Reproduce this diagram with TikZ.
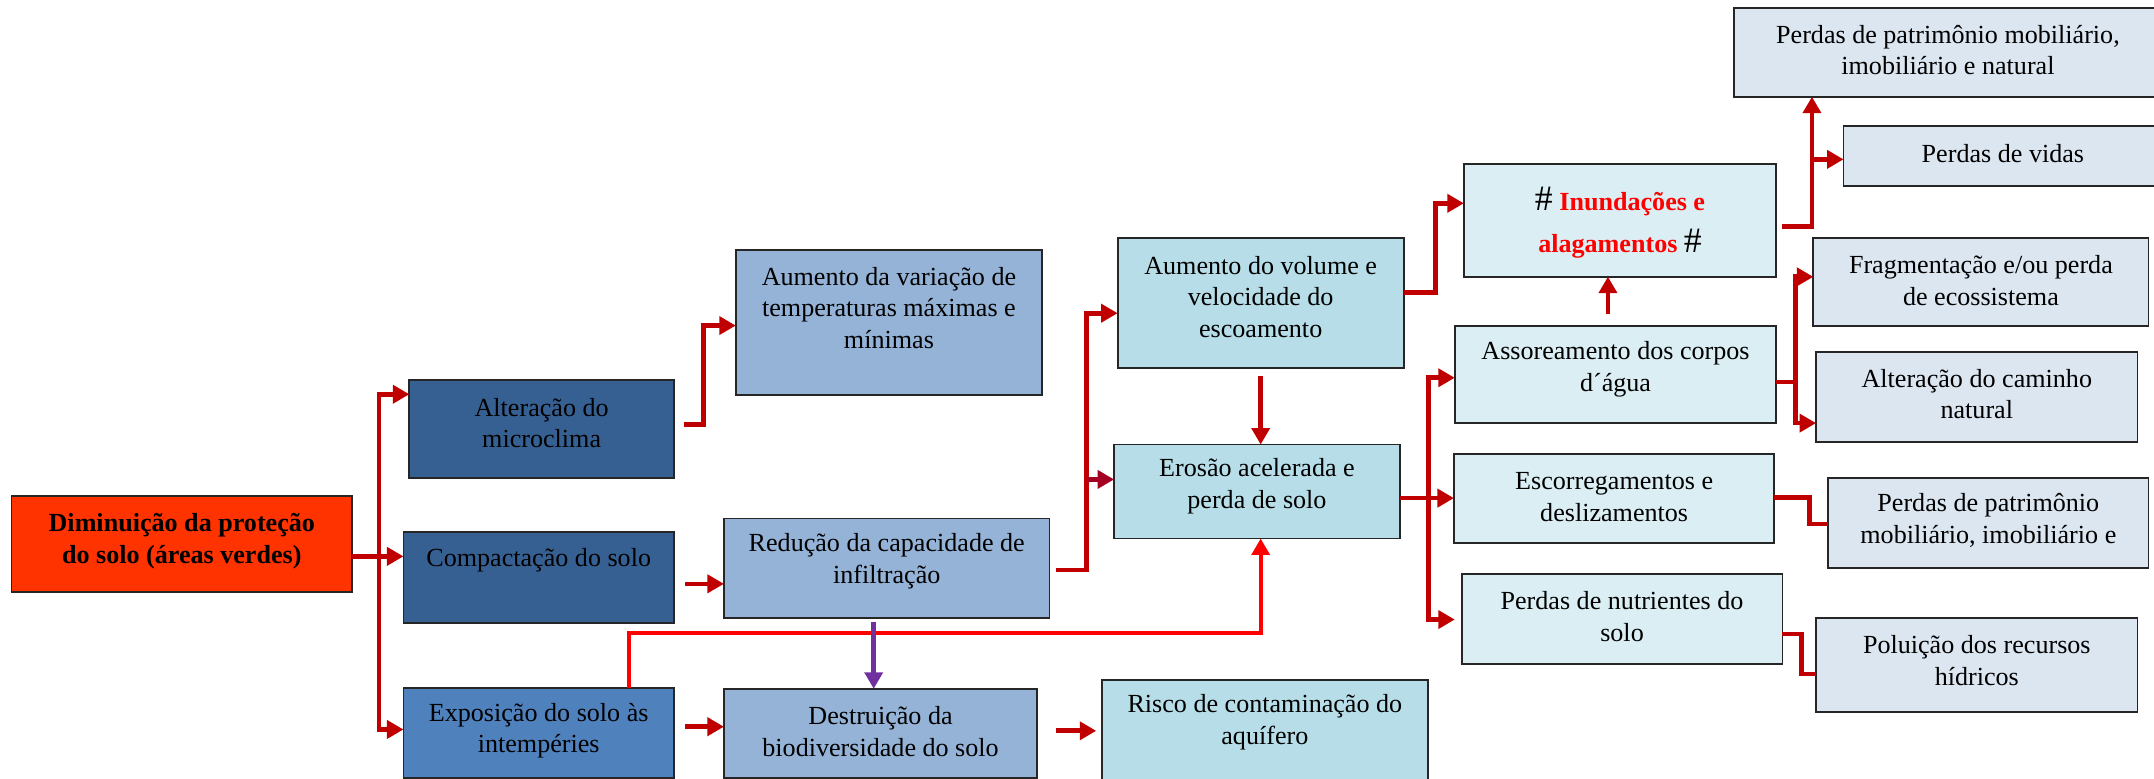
\documentclass[tikz,border=0pt]{standalone}
\usepackage{fontspec}
\setmainfont{Liberation Serif}
\usetikzlibrary{arrows.meta,calc}
\definecolor{cRoot}{HTML}{FF3300}
\definecolor{cDark}{HTML}{376092}
\definecolor{cMid}{HTML}{4F81BD}
\definecolor{cSteel}{HTML}{95B3D7}
\definecolor{cCyan}{HTML}{B7DEE8}
\definecolor{cPale}{HTML}{DAEEF3}
\definecolor{cGrey}{HTML}{DCE6F1}
\definecolor{cArr}{HTML}{C00000}
\definecolor{cMaroon}{HTML}{A50021}
\definecolor{cBright}{HTML}{FF0000}
\definecolor{cPurple}{HTML}{7030A0}
\tikzset{
 boxst/.style={draw=black!85, line width=1.3pt, rectangle, inner sep=0pt, outer sep=0pt},
 txt/.style={align=center, inner sep=0pt, font=\fontsize{19}{23}\selectfont},
 conn/.style={color=cArr, line width=3.4pt},
 arr/.style={conn, -{Triangle[length=12pt,width=13pt]}},
}
\newcommand\bx[9]{%
 \node[boxst, fill=#2, minimum width={(#5)-(#3)}, minimum height={(#6)-(#4)}] (#1) at ({((#3)+(#5))/2},{((#4)+(#6))/2}) {};
 \node[txt,#9] (#1-t) at ({((#3)+(#5))/2},#7) {#8};
}
\begin{document}
\begin{tikzpicture}[x={(1pt,0)},y={(0,-1pt)}]
\useasboundingbox (0,0) rectangle (1568,567);
% boxes
\bx{root}{cRoot}{8.4}{361}{256.3}{431.2}{394}{Diminuição da proteção\\do solo (áreas verdes)}{font=\fontsize{19}{23}\selectfont\bfseries}
\bx{alter}{cDark}{298}{276.6}{490.6}{348.2}{308}{Alteração do\\microclima}{}
\bx{compact}{cDark}{293.7}{387.5}{490.6}{453.3}{408}{Compactação do solo}{}
\bx{expo}{cMid}{293.7}{501}{490.6}{566.3}{532}{Exposição do solo às\\intempéries}{}
\bx{var}{cSteel}{535.6}{182.2}{758.6}{287.3}{224}{Aumento da variação de\\temperaturas máximas e\\mínimas}{}
\bx{red}{cSteel}{527}{377.4}{764}{450}{408.6}{Redução da capacidade de\\infiltração}{}
\bx{destr}{cSteel}{527}{501.4}{755}{566.3}{532.5}{Destruição da\\biodiversidade do solo}{}
\bx{vol}{cCyan}{813.6}{173}{1021.8}{268}{216}{Aumento do volume e\\velocidade do\\escoamento}{}
\bx{ero}{cCyan}{811}{323.6}{1019}{392}{354}{Erosão acelerada e\\perda de solo}{}
\bx{risco}{cCyan}{802}{495}{1039.5}{575}{525.7}{Risco de contaminação do\\aquífero}{}
\bx{inund}{cPale}{1065.6}{119.4}{1293}{201.4}{162}{{\fontsize{26}{30}\selectfont\#} {\bfseries\color{cBright}Inundações e}\\{\bfseries\color{cBright}alagamentos} {\fontsize{26}{30}\selectfont\#}}{font=\fontsize{19}{31}\selectfont}
\bx{asso}{cPale}{1059}{237.3}{1293}{307.7}{268.7}{Assoreamento dos corpos\\d´água}{}
\bx{esc}{cPale}{1058.4}{330.5}{1291.6}{395}{362}{Escorregamentos e\\deslizamentos}{}
\bx{nutr}{cPale}{1064}{417.9}{1297.5}{483.6}{449}{Perdas de nutrientes do\\solo}{}
\bx{patr}{cGrey}{1262}{6}{1574}{70.4}{36.4}{Perdas de patrimônio mobiliário,\\imobiliário e natural}{}
\bx{vidas}{cGrey}{1342}{91.7}{1574}{135.4}{111.6}{Perdas de vidas}{}
\bx{frag}{cGrey}{1320}{173.5}{1564}{237.3}{204.4}{Fragmentação e/ou perda\\de ecossistema}{}
\bx{altc}{cGrey}{1322}{256}{1556}{322}{287}{Alteração do caminho\\natural}{}
\bx{patr2}{cGrey}{1330.8}{348}{1564}{413.7}{379}{Perdas de patrimônio\\mobiliário, imobiliário e}{}
\bx{polu}{cGrey}{1322}{450}{1556}{518.5}{481}{Poluição dos recursos\\hídricos}{}
% connectors
\coordinate (b1) at (276,405);
\draw[arr] (root.east |- b1) -- (compact.west |- b1);
\draw[arr] (b1) |- (alter.west |- 0,287);
\draw[arr] (b1) |- (expo.west |- 0,531);
\draw[arr] ($(alter.east |- 0,309)+(7,0)$) -| (512,270) |- (var.west |- 0,237);
\draw[arr] ($(compact.east |- 0,425)+(8,0)$) -- (red.west |- 0,425);
\draw[arr] ($(expo.east |- 0,529)+(8,0)$) -- (destr.west |- 0,529);
\coordinate (b2) at (791,349);
\draw[arr] ($(red.east |- 0,415)+(5,0)$) -| (b2) |- (vol.west |- 0,228);
\draw[arr, color=cMaroon] (b2) -- (ero.west |- b2);
\draw[arr] ($(vol.south)+(0,6)$) -- (ero.north -| vol.south);
\draw[arr, color=cBright, line width=2.8pt] (expo.north -| 458,0) |- (917.7,461) -- (ero.south -| vol.south);
\draw[arr, color=cPurple] ($(red.south -| 636,0)+(0,3)$) -- (destr.north -| 636,0);
\draw[arr] ($(destr.east |- 0,532)+(14,0)$) -- ($(risco.west |- 0,532)+(-4,0)$);
\draw[arr] (vol.east |- 0,213) -| (1045,180) |- (inund.west |- 0,148);
\coordinate (b3) at (1040,362.6);
\draw[arr] (ero.east |- b3) -- (esc.west |- b3);
\draw[arr] (b3) |- (asso.west |- 0,275);
\draw[arr] (b3) |- ($(nutr.west |- 0,451)+(-5,0)$);
\draw[arr] ($(asso.north -| 1170.5,0)+(0,-9)$) -- (inund.south -| 1170.5,0);
\coordinate (b4) at (1319,116);
\draw[arr] ($(inund.east |- 0,165)+(4,0)$) -| (patr.south -| b4);
\draw[arr] (b4) -- (vidas.west |- b4);
\coordinate (b5) at (1307,278);
\draw[conn] (asso.east |- b5) -- (b5);
\draw[arr] (b5) |- (frag.west |- 0,201.5);
\draw[arr] (b5) |- (altc.west |- 0,308);
\draw[conn] (esc.east |- 0,362) -| (1317,372) |- (patr2.west |- 0,381.5);
\draw[conn] (nutr.east |- 0,461.5) -| (1311.5,475) |- (polu.west |- 0,490.6);
\end{tikzpicture}
\end{document}
